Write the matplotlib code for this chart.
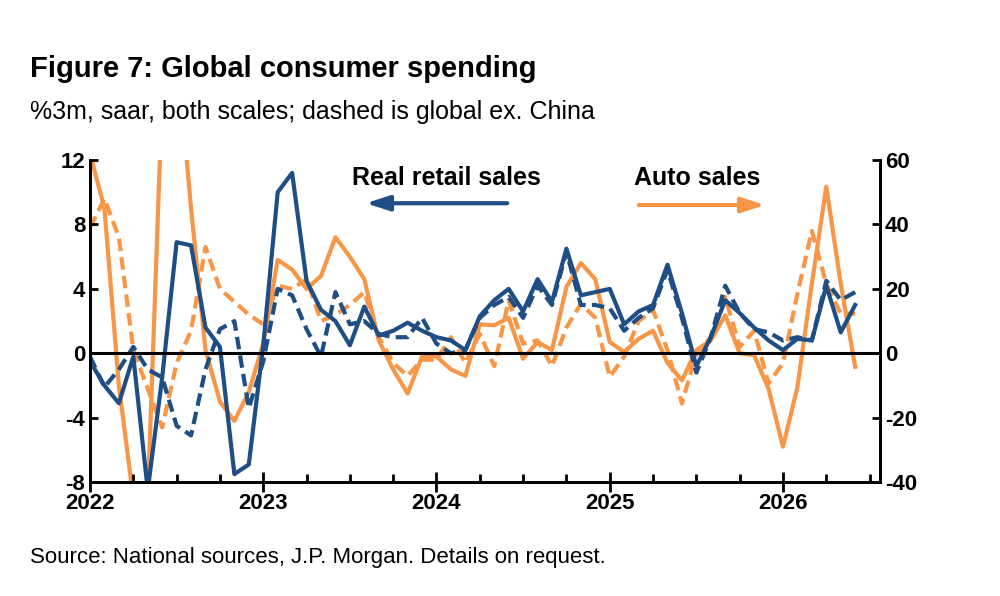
import numpy as np
import matplotlib.pyplot as plt
from matplotlib.ticker import MultipleLocator

plt.rcParams['font.family'] = ['Liberation Sans', 'DejaVu Sans']
plt.rcParams['axes.unicode_minus'] = False

# monthly data, Jan 2022 .. Jun 2026
retail = [-0.5, -2.0, -3.1, -0.2, -8.5, -1.5, 6.9, 6.7, 1.6, 0.4, -7.5, -6.9,
          0.5, 10.0, 11.2, 4.5, 2.7, 2.0, 0.5, 2.9, 1.1, 1.4, 1.9, 1.4,
          1.0, 0.8, 0.2, 2.3, 3.3, 4.0, 2.6, 4.6, 3.2, 6.5, 3.6, 3.8,
          4.0, 1.8, 2.6, 3.0, 5.5, 2.5, -0.8, 1.0, 3.3, 2.5, 1.6, 0.8,
          0.2, 0.9, 0.8, 4.2, 1.3, 3.0]
retail_xc = [-0.2, -2.1, -1.0, 0.4, -1.0, -1.5, -4.5, -5.1, -1.0, 1.5, 2.0, -3.4,
             -0.5, 4.0, 3.6, 1.5, -0.2, 3.8, 1.8, 2.0, 1.2, 1.0, 1.0, 2.2,
             0.6, 0.0, 0.2, 2.2, 3.0, 3.5, 2.2, 4.2, 3.0, 6.3, 3.0, 3.0,
             2.8, 1.4, 2.2, 2.8, 5.2, 2.2, -1.2, 1.0, 4.2, 2.5, 1.5, 1.3,
             0.8, 1.0, 0.8, 4.5, 3.3, 3.8]
auto = [62, 45, -10, -45, -45, 80, 95, 45, 1, -15, -21, -12,
        3, 29, 26, 20, 24, 36, 30, 23, 4, -5, -12.5, -1,
        -1, -5, -7, 9, 8.7, 11, -1.7, 3.5, 1, 20.6, 28, 23,
        3.5, 0.4, 4.5, 7, -3, -8.4, 1, 4, 11.8, 0, -0.6, -11,
        -29, -10.5, 21.6, 51.7, 21.6, -4.2]
auto_xc = [39, 48, 36, 1, -11, -23, -3, 7, 33, 20, 16, 12,
           9, 21, 20, 23, 10, 12, 15, 19, 5, -3, -7, -2,
           -2, 5, -3, 6, -4, 16.5, 3, 4, -4, 8, 15.4, 11,
           -7.3, -1, 10, 13.4, 1, -15.6, 0, 5, 17.5, 2, 7, -9.4,
           -3, 18.5, 38, 21.6, 12.3, 12.3]

t = 2022 + np.arange(len(retail)) / 12

blue = '#1F4E85'
orange = '#F79646'

fig = plt.figure(figsize=(10, 5.96), dpi=100)
ax = fig.add_axes([0.09, 0.191, 0.79, 0.5405])
ax2 = ax.twinx()

ax2.plot(t, auto, color=orange, lw=3)
ax2.plot(t, auto_xc, color=orange, lw=3, ls=(0, (3, 1.5)))
ax.plot(t, retail, color=blue, lw=3)
ax.plot(t, retail_xc, color=blue, lw=3, ls=(0, (3, 1.5)))
ax.set_zorder(ax2.get_zorder() + 1)
ax.patch.set_visible(False)
ax.axhline(0, color='black', lw=2.2)

ax.set_xlim(2022, 2026.56)
ax.set_ylim(-8, 12)
ax2.set_ylim(-40, 60)
ax.yaxis.set_major_locator(MultipleLocator(4))
ax2.yaxis.set_major_locator(MultipleLocator(20))
ax.set_xticks([2022, 2023, 2024, 2025, 2026])
ax.xaxis.set_minor_locator(MultipleLocator(0.25))

for a in (ax, ax2):
    for s in a.spines.values():
        s.set_linewidth(2)
    a.tick_params(axis='y', direction='in', width=2, length=6, labelsize=16)
    for lab in a.get_yticklabels():
        lab.set_fontweight('bold')
ax.spines['top'].set_visible(False)
ax2.spines['top'].set_visible(False)
ax.tick_params(axis='x', which='major', direction='inout', width=2, length=14, labelsize=16, pad=1)
ax.tick_params(axis='x', which='minor', direction='in', width=2, length=6)
for lab in ax.get_xticklabels():
    lab.set_fontweight('bold')

fig.text(0.03, 0.87, 'Figure 7: Global consumer spending', fontsize=21, fontweight='bold')
fig.text(0.03, 0.8, '%3m, saar, both scales; dashed is global ex. China', fontsize=18)
fig.text(0.03, 0.055, 'Source: National sources, J.P. Morgan. Details on request.', fontsize=16)

fig.text(0.446, 0.69, 'Real retail sales', fontsize=18, fontweight='bold', ha='center')
fig.text(0.697, 0.69, 'Auto sales', fontsize=18, fontweight='bold', ha='center')
fig.add_artist(plt.Annotation('', xy=(0.363, 0.659), xytext=(0.51, 0.659),
                              xycoords='figure fraction',
                              arrowprops=dict(arrowstyle='-|>,head_length=1.4,head_width=0.45',
                                              color=blue, lw=3)))
fig.add_artist(plt.Annotation('', xy=(0.768, 0.656), xytext=(0.636, 0.656),
                              xycoords='figure fraction',
                              arrowprops=dict(arrowstyle='-|>,head_length=1.4,head_width=0.45',
                                              color=orange, lw=3)))

fig.savefig('out.png', dpi=100)
